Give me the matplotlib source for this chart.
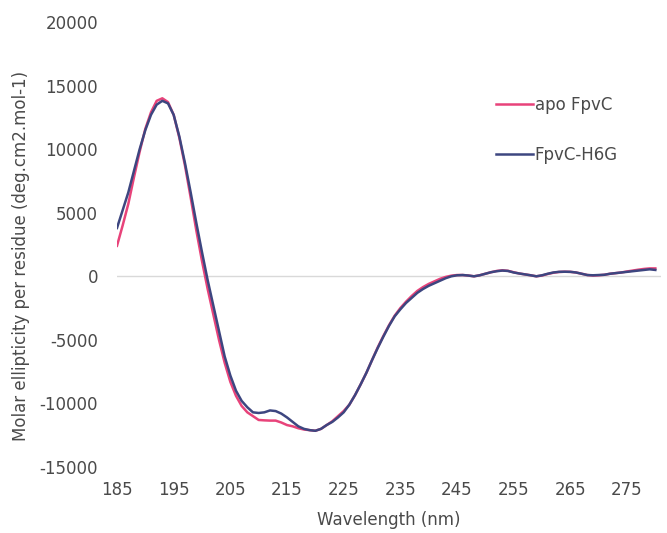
"""
CD spectra: apo FpvC vs FpvC-H6G
"""

import numpy as np
import matplotlib
matplotlib.use('Agg')
import matplotlib.pyplot as plt

plt.rcParams['font.family'] = ['DejaVu Sans']
plt.rcParams['axes.unicode_minus'] = False

# wavelength (nm), 1 nm step
wavelength = list(range(185, 281))

# molar ellipticity, FpvC-H6G
h6g = [3800, 5200, 6600, 8300, 10000, 11500, 12700, 13500, 13800, 13600,
       12700, 11000, 8900, 6600, 4200, 1900, -300, -2300, -4300, -6300,
       -7800, -9000, -9800, -10300, -10700, -10750, -10700, -10550, -10600, -10800,
       -11100, -11450, -11800, -12000, -12100, -12150, -12000, -11700, -11450, -11100,
       -10700, -10100, -9350, -8500, -7600, -6600, -5650, -4750, -3900, -3150,
       -2600, -2100, -1700, -1300, -1000, -750, -550, -350, -150, 0,
       80, 100, 60, 0, 80, 200, 320, 400, 450, 420,
       300, 220, 150, 80, 0, 80, 200, 300, 350, 360,
       350, 300, 200, 100, 80, 100, 120, 200, 250, 300,
       350, 400, 450, 500, 550, 500]

# molar ellipticity, apo FpvC
apo = [2400, 4000, 5700, 7800, 9800, 11600, 12900, 13800, 14000, 13700,
       12700, 10900, 8700, 6200, 3600, 1200, -1000, -3000, -5000, -6800,
       -8300, -9400, -10200, -10700, -11000, -11300, -11330, -11350, -11350, -11500,
       -11700, -11800, -11950, -12050, -12100, -12150, -12000, -11700, -11400, -11000,
       -10600, -10100, -9350, -8500, -7600, -6600, -5600, -4700, -3850, -3100,
       -2500, -2000, -1550, -1150, -850, -600, -400, -200, -50, 50,
       100, 100, 60, 0, 80, 200, 320, 420, 470, 430,
       320, 220, 150, 80, 0, 60, 180, 280, 340, 360,
       350, 300, 200, 100, 60, 80, 120, 200, 250, 300,
       380, 450, 520, 580, 620, 620]

y_ticks = [-15000, -10000, -5000, 0, 5000, 10000, 15000, 20000]
x_ticks = list(range(185, 281, 10))

text_color = '#4a4a4a'

fig = plt.figure(figsize=(6.67, 5.33), dpi=100)
ax = fig.add_axes([0.1754, 0.1238, 0.8156, 0.8349])

ax.axhline(0, color='#d9d9d9', linewidth=1.0, zorder=1)
ax.plot(wavelength, apo, color='#e8437a', linewidth=1.8, label='apo FpvC', zorder=2)
ax.plot(wavelength, h6g, color='#3d4680', linewidth=1.8, label='FpvC-H6G', zorder=3)

ax.set_xlim(185, 281)
ax.set_ylim(-15000, 20000)
ax.set_xticks(x_ticks)
ax.set_yticks(y_ticks)
ax.tick_params(axis='both', length=0, labelsize=12, labelcolor=text_color)
ax.tick_params(axis='y', pad=13.5)
ax.tick_params(axis='x', pad=10)
for s in ax.spines.values():
    s.set_visible(False)

ax.set_xlabel('Wavelength (nm)', fontsize=12, color=text_color, labelpad=9)
ax.set_ylabel('Molar ellipticity per residue (deg.cm2.mol-1)', fontsize=12,
              color=text_color)
ax.yaxis.set_label_coords(-0.160, 0.474)

ax.legend(loc='upper left', bbox_to_anchor=(0.67, 0.868), frameon=False,
          fontsize=12, labelcolor=text_color, handlelength=2.2,
          handletextpad=0.1, labelspacing=1.95)

fig.savefig('out.png', dpi=100)
